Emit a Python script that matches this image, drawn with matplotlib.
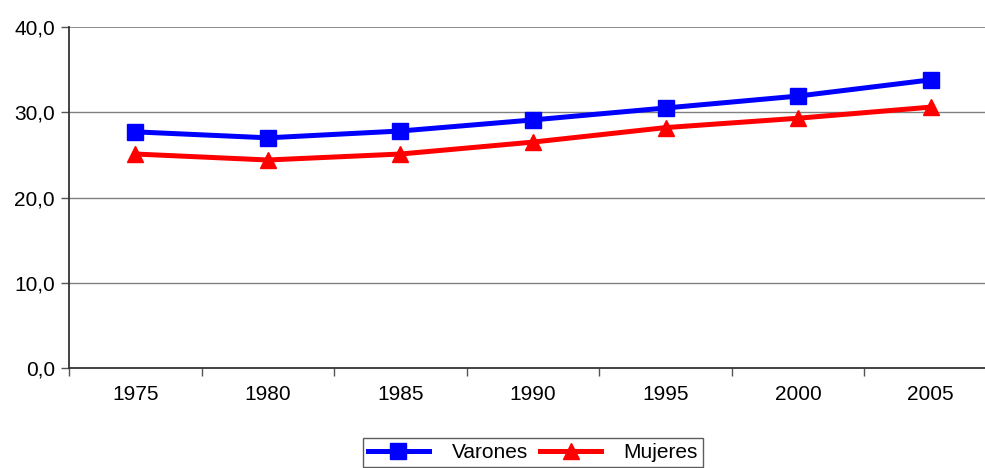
import matplotlib
matplotlib.use("Agg")
import matplotlib.pyplot as plt

plt.rcParams['font.family'] = ['Liberation Sans', 'DejaVu Sans']

## datos
years = ["1975", "1980", "1985", "1990", "1995", "2000", "2005"]
varones = [27.7, 27.0, 27.8, 29.1, 30.5, 31.9, 33.8]
mujeres = [25.1, 24.4, 25.1, 26.5, 28.2, 29.3, 30.6]
yticks = [0, 10, 20, 30, 40]
ylabels = ["0,0", "10,0", "20,0", "30,0", "40,0"]

W, H = 985, 468
fig = plt.figure(figsize=(W / 100, H / 100), dpi=100)
# plot area: x 69..997 px, y 27..368 px
ax = fig.add_axes([69 / W, 1 - 368 / H, (997 - 69) / W, (368 - 27) / H])

x = list(range(len(years)))
ax.plot(x, varones, color="#0000ff", lw=3.6, marker="s", ms=11, label="Varones")
ax.plot(x, mujeres, color="#ff0000", lw=3.6, marker="^", ms=12, label="Mujeres")

ax.set_xlim(-0.5, len(years) - 0.5)
ax.set_ylim(0, 40)
ax.set_yticks(yticks)
ax.set_yticklabels(ylabels)
ax.set_xticks(x)
ax.set_xticklabels(years)
ax.set_xticks([i - 0.5 for i in range(len(years) + 1)], minor=True)
ax.tick_params(axis="x", which="major", length=0, pad=12, labelsize=15)
ax.tick_params(axis="x", which="minor", length=6, width=1, color="#555555", direction="out")
ax.tick_params(axis="y", length=6, width=1, color="#555555", labelsize=15, pad=4)

for yv in yticks[1:]:
    ax.axhline(yv, color="#808080", lw=1.3 if yv == 40 else 1.0, zorder=0)

for s in ["top", "right"]:
    ax.spines[s].set_visible(False)
ax.spines["left"].set_color("#333333")
ax.spines["left"].set_linewidth(1.3)
ax.spines["bottom"].set_color("#333333")
ax.spines["bottom"].set_linewidth(1.3)

leg = fig.legend(loc="upper left", bbox_to_anchor=(363 / W, 1 - 438 / H), ncol=2,
                 fontsize=15, frameon=True, fancybox=False, edgecolor="#333333",
                 handlelength=2.9, columnspacing=0.6, handletextpad=1.1,
                 borderpad=0.25, borderaxespad=0)
leg.get_frame().set_linewidth(1.0)

fig.savefig("out.png", dpi=100)
